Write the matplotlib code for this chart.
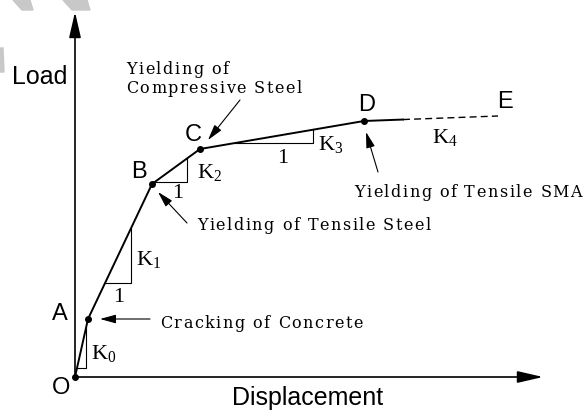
import numpy as np
import matplotlib.pyplot as plt
from matplotlib.patches import Polygon
from matplotlib.font_manager import FontProperties
from matplotlib.transforms import IdentityTransform

# load-displacement points O, A, B, C, D, E
names = ['O', 'A', 'B', 'C', 'D', 'E']
disp = [0, 13, 77, 125, 289, 423]
load = [0, 58, 193, 228, 256, 261]
solid_end = 328          # K4 branch is solid up to here, dashed after

# stiffness triangles: (x start, x end) on the curve
tri_x = [(2, 11), (30, 56), (80, 112), (160, 238)]

fig = plt.figure(figsize=(5.84, 4.12), dpi=100)
ax = fig.add_axes([0, 0, 1, 1])
ax.set_xlim(-75, 509)
ax.set_ylim(-35, 377)
ax.axis('off')

# faint watermark stripes top-left
grey = '#c8c8c8'
for pts in [[(13, 412), (30, 412), (33, 402), (22, 402)],
            [(63, 412), (87, 412), (90, 402), (72, 402)],
            [(0, 364), (3, 364), (4, 340), (0, 340)]]:
    fig.patches.append(Polygon(pts, closed=True, color=grey, transform=None))

# axes with arrows
ap = dict(arrowstyle='-|>,head_length=1.3,head_width=0.3', lw=1.2, color='k',
          mutation_scale=12, shrinkA=0, shrinkB=0)
ax.annotate('', xy=(468, 0), xytext=(0, 0), arrowprops=ap)
ax.annotate('', xy=(0, 365), xytext=(0, 0), arrowprops=ap)

# curve
x_e = np.array(disp)
y_e = np.array(load)
y_solid = np.interp(solid_end, x_e, y_e)
ax.plot(list(disp[:5]) + [solid_end], list(load[:5]) + [y_solid], color='k', lw=1.4)
ax.plot([solid_end, disp[5]], [y_solid, load[5]], color='k', lw=1.0, ls=(0, (5, 3)))
ax.plot(disp[:5], load[:5], 'o', color='k', ms=4)

# stiffness triangles
for x1, x2 in tri_x:
    y1 = np.interp(x1, x_e, y_e)
    y2 = np.interp(x2, x_e, y_e)
    ax.plot([x1, x2, x2], [y1, y1, y2], color='k', lw=0.8)

sans = 'Liberation Sans'
serif = 'DejaVu Serif'
kfont = 'Liberation Serif'

ax.text(-63, 293, 'Load', family=sans, fontsize=18)
ax.text(157, -28, 'Displacement', family=sans, fontsize=18)

lab_pos = [(-23, -17), (-23, 57), (56, 199), (110, 236), (283, 266), (422, 269)]
for n, (px, py) in zip(names, lab_pos):
    ax.text(px, py, n, family=sans, fontsize=17)

# stiffness labels
k_pos = [(16, 18), (61, 112), (122, 199), (243, 227), (357, 234)]
for i, (px, py) in enumerate(k_pos):
    ax.text(px, py, r'$\mathregular{K_%d}$' % i, family=kfont, fontsize=16)
for px, py in [(38, 75), (97, 179), (202, 214)]:
    ax.text(px, py, '1', family=kfont, fontsize=16)

# annotations, letter-spaced like the original drawing
renderer = fig.canvas.get_renderer()
fp = FontProperties(family=serif, size=11.5)


def char_w(ch):
    w2 = renderer.get_text_width_height_descent('xx', fp, ismath=False)[0]
    w3 = renderer.get_text_width_height_descent('x' + ch + 'x', fp, ismath=False)[0]
    return w3 - w2


def spaced(x, y, s, track=1.5):
    px, py = ax.transData.transform((x, y))
    for ch in s:
        if ch != ' ':
            ax.text(px, py, ch, fontproperties=fp, transform=IdentityTransform())
        px += char_w(ch) + track


spaced(51, 303, 'Yielding of')
spaced(51, 284, 'Compressive Steel')
spaced(85, 49, 'Cracking of Concrete')
spaced(122, 147, 'Yielding of Tensile Steel')
spaced(279, 180, 'Yielding of Tensile SMA')

sp = dict(arrowstyle='-|>,head_length=0.8,head_width=0.22', lw=0.8, color='k',
          mutation_scale=12, shrinkA=0, shrinkB=0)
ax.annotate('', xy=(133, 237), xytext=(165, 277), arrowprops=sp)
ax.annotate('', xy=(25, 58), xytext=(75, 58), arrowprops=sp)
ax.annotate('', xy=(83, 185), xytext=(112, 154), arrowprops=sp)
ax.annotate('', xy=(291, 245), xytext=(303, 205), arrowprops=sp)

fig.savefig('out.png', dpi=100)
